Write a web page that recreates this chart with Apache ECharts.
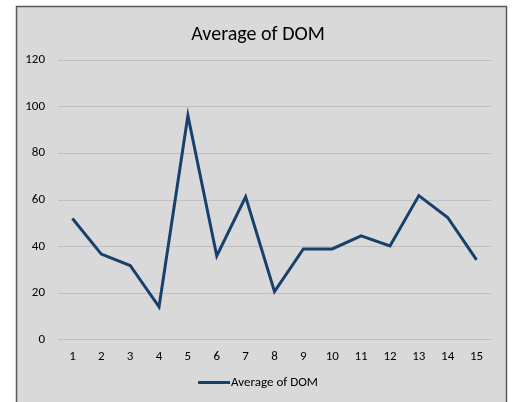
<!DOCTYPE html>
<html>
<head>
<meta charset="utf-8">
<script src="https://cdn.jsdelivr.net/npm/echarts@6/dist/echarts.min.js"></script>
<style>
html,body{margin:0;padding:0;background:#fff;}
#c{width:516px;height:402px;}
</style>
</head>
<body>
<div id="c"></div>
<script>
const categories = ['1','2','3','4','5','6','7','8','9','10','11','12','13','14','15'];
const seriesName = 'Average of DOM';
const values = [52, 36.7, 31.8, 14.1, 96.2, 35.9, 61.3, 20.6, 38.9, 38.9, 44.5, 40.2, 61.8, 52.4, 34.2];
const yTicks = {min: 0, max: 120, interval: 20};

const chart = echarts.init(document.getElementById('c'), null, {renderer: 'canvas'});
const font = 'Carlito, Calibri, "Open Sans", sans-serif';
chart.setOption({
  animation: false,
  backgroundColor: '#ffffff',
  graphic: [{
    type: 'rect', z: -10, silent: true,
    shape: {x: 16.5, y: 6.5, width: 490, height: 400},
    style: {fill: '#d9d9d9', stroke: '#595959', lineWidth: 1.5}
  }],
  title: {
    text: 'Average of DOM', left: 'center', top: 20,
    textStyle: {fontFamily: font, fontSize: 20, fontWeight: 'normal', color: '#000'}
  },
  legend: {
    bottom: 8, left: 'center',
    itemWidth: 32, itemHeight: 3, itemGap: 0,
    icon: 'rect',
    textStyle: {fontFamily: font, fontSize: 13, color: '#000', padding: [0,0,0,-4]},
    data: [seriesName]
  },
  grid: {left: 58, right: 25, top: 60, bottom: 62.4, containLabel: false},
  xAxis: {
    type: 'category', data: categories, boundaryGap: true,
    axisLine: {show: false}, axisTick: {show: false},
    axisLabel: {margin: 11, fontFamily: font, fontSize: 13, color: '#000'}
  },
  yAxis: {
    type: 'value', min: yTicks.min, max: yTicks.max, interval: yTicks.interval,
    axisLine: {show: false}, axisTick: {show: false},
    axisLabel: {margin: 13, fontFamily: font, fontSize: 13, color: '#000'},
    splitLine: {lineStyle: {color: '#bfbfbf', width: 1}}
  },
  series: [{
    name: seriesName, type: 'line', data: values,
    symbol: 'none', lineStyle: {color: '#17416b', width: 3, join: 'miter'},
    itemStyle: {color: '#17416b'}
  }]
});
</script>
</body>
</html>
